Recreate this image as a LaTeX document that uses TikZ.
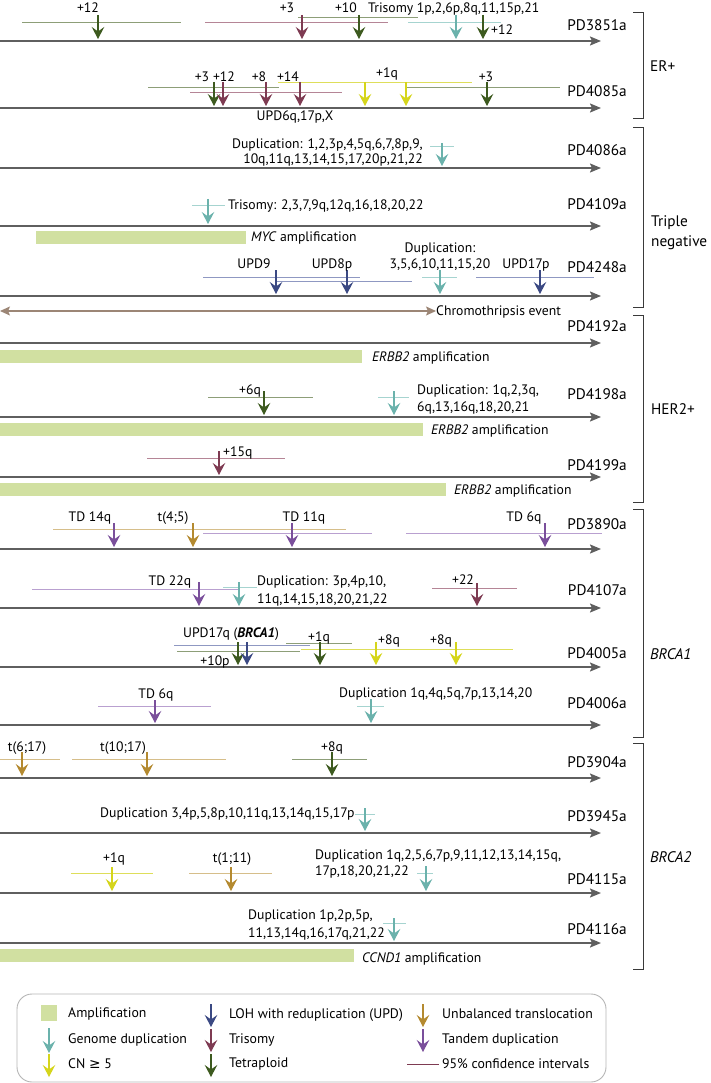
\documentclass[tikz,border=0pt]{standalone}
\usepackage{fontspec}
\setmainfont{PT Sans}
\newfontfamily\symfont{DejaVu Sans}
\usetikzlibrary{arrows.meta}

\definecolor{cTrack}{HTML}{5F5F5F}
\definecolor{cTetra}{HTML}{3D5A1F}
\definecolor{cTetraCI}{HTML}{8D9E78}
\definecolor{cTri}{HTML}{7E3B52}
\definecolor{cTriCI}{HTML}{B58596}
\definecolor{cCN}{HTML}{D5D51C}
\definecolor{cCNCI}{HTML}{DEDE5A}
\definecolor{cGD}{HTML}{6BB2AC}
\definecolor{cGDCI}{HTML}{A6D4D0}
\definecolor{cUPD}{HTML}{3B4983}
\definecolor{cUPDCI}{HTML}{8F98C2}
\definecolor{cTrans}{HTML}{B48A30}
\definecolor{cTransCI}{HTML}{D6BE8A}
\definecolor{cTD}{HTML}{7A4F9B}
\definecolor{cTDCI}{HTML}{B9A0D0}
\definecolor{cChromo}{HTML}{9C8676}
\definecolor{cAmp}{HTML}{D1E0A1}
\definecolor{cBrk}{HTML}{3A3A3A}
\definecolor{cLeg}{HTML}{B5B5B5}

\begin{document}
\begin{tikzpicture}[x=1pt, y=-1pt,
    track/.style={draw=cTrack, line width=1.8pt, -{Stealth[length=11pt,width=9pt,inset=2pt]}},
    evt/.style={line width=1.3pt, -{Stealth[length=12pt,width=12.5pt,inset=4.5pt]}},
    ci/.style={line width=0.9pt},
    ampbar/.style={fill=cAmp, draw=none},
    lbl/.style={font=\fontsize{13.7}{17}\selectfont, inner sep=0pt, anchor=base},
    sample/.style={font=\fontsize{15.3}{18}\selectfont, inner sep=0pt, anchor=base east},
    grp/.style={font=\fontsize{15.3}{20}\selectfont, inner sep=0pt, anchor=base west, align=left},
    brk/.style={draw=cBrk, line width=1pt},
    legtxt/.style={font=\fontsize{13.8}{17}\selectfont, inner sep=0pt, anchor=base west}]
    \useasboundingbox (0,0) rectangle (711,1083);

    % PD3851a
    \draw[track] (0,41) -- (601,41);
    \draw[ci, cTetraCI] (22,22) -- (181,22);
    \draw[ci, cTriCI] (205,22) -- (388,22);
    \draw[ci, cTetraCI] (298,17) -- (418,17);
    \draw[ci, cGDCI] (408,22) -- (501,22);
    \draw[evt, cTetra] (98,15) -- (98,39);
    \draw[evt, cTri] (302,15) -- (302,39);
    \draw[evt, cTetra] (359,15) -- (359,39);
    \draw[evt, cGD] (456,15) -- (456,39);
    \draw[evt, cTetra] (483,15) -- (483,39);
    \node[lbl] (a1) at (88,13) {+12};
    \node[lbl] (a2) at (287,13) {+3};
    \node[lbl] (a3) at (346,13) {+10};
    \node[lbl, anchor=base west] (a4) at (368,13) {Trisomy 1p,2,6p,8q,11,15p,21};
    \node[lbl, anchor=base west] (a5) at (491,35) {+12};
    \node[sample] (s3851) at (627,31) {PD3851a};

    % PD4085a
    \draw[track] (0,108) -- (601,108);
    \draw[ci, cTetraCI] (148,87) -- (279,87);
    \draw[ci, cTriCI] (190,92) -- (342,92);
    \draw[ci, cCNCI] (278,82) -- (472,82);
    \draw[ci, cTetraCI] (407,87) -- (560,87);
    \draw[evt, cTetra] (214,82) -- (214,106);
    \draw[evt, cTri] (223,82) -- (223,106);
    \draw[evt, cTri] (266,82) -- (266,106);
    \draw[evt, cTri] (300,82) -- (300,106);
    \draw[evt, cCN] (365,82) -- (365,106);
    \draw[evt, cCN] (406,82) -- (406,106);
    \draw[evt, cTetra] (487,82) -- (487,106);
    \node[lbl] (b1) at (202,82) {+3};
    \node[lbl] (b2) at (224,82) {+12};
    \node[lbl] (b3) at (259,82) {+8};
    \node[lbl] (b4) at (288,82) {+14};
    \node[lbl] (b5) at (387,78) {+1q};
    \node[lbl] (b6) at (486,82) {+3};
    \node[lbl] (b7) at (295,121) {UPD6q,17p,X};
    \node[sample] (s4085) at (627,97) {PD4085a};

    % PD4086a
    \draw[track] (0,168) -- (601,168);
    \draw[ci, cGDCI] (430,146) -- (454,146);
    \draw[evt, cGD] (442,143) -- (442,166);
    \node[lbl, anchor=north east, align=right] (c1) at (423,138.5) {Duplication: 1,2,3p,4,5q,6,7,8p,9,\\[-2pt]10q,11q,13,14,15,17,20p,21,22};
    \node[sample] (s4086) at (627,156) {PD4086a};

    % PD4109a
    \draw[track] (0,226) -- (601,226);
    \fill[ampbar] (36,231) rectangle (246,244);
    \draw[ci, cGDCI] (192,205) -- (225,205);
    \draw[evt, cGD] (208,199) -- (208,224);
    \node[lbl, anchor=base west] (d1) at (228,210) {Trisomy: 2,3,7,9q,12q,16,18,20,22};
    \node[lbl, anchor=base west] (d2) at (251,242) {\textit{MYC} amplification};
    \node[sample] (s4109) at (627,210) {PD4109a};

    % PD4248a
    \draw[track] (0,296) -- (601,296);
    \draw[ci, cUPDCI] (203,277) -- (360,277);
    \draw[ci, cUPDCI] (276,281) -- (412,281);
    \draw[ci, cGDCI] (422,277) -- (457,277);
    \draw[ci, cUPDCI] (476,277) -- (594,277);
    \draw[evt, cUPD] (276,270) -- (276,294);
    \draw[evt, cUPD] (347,270) -- (347,294);
    \draw[evt, cGD] (440,270) -- (440,294);
    \draw[evt, cUPD] (540,270) -- (540,294);
    \node[lbl] (e1) at (254,268) {UPD9};
    \node[lbl] (e2) at (332,268) {UPD8p};
    \node[lbl, anchor=north, align=center] (e3) at (440,242.5) {Duplication:\\[-1pt]3,5,6,10,11,15,20};
    \node[lbl] (e4) at (526,268) {UPD17p};
    \node[sample] (s4248) at (627,272) {PD4248a};

    % chromothripsis
    \coordinate (ch0) at (0,311);
    \node[lbl, anchor=west, text height=9pt, text depth=0pt] (ch1) at (436,311) {Chromothripsis event};
    \draw[cChromo, line width=1.2pt, {Stealth[length=10pt,width=9pt,inset=2pt]}-{Stealth[length=10pt,width=9pt,inset=2pt]}] (ch0) -- (ch1.west);

    % PD4192a
    \draw[track] (0,343) -- (601,343);
    \fill[ampbar] (0,350) rectangle (362,363);
    \node[lbl, anchor=base west] (f1) at (372,361) {\textit{ERBB2} amplification};
    \node[sample] (s4192) at (627,331) {PD4192a};

    % PD4198a
    \draw[track] (0,417) -- (601,417);
    \fill[ampbar] (0,423) rectangle (423,436);
    \draw[ci, cTetraCI] (208,397) -- (313,397);
    \draw[ci, cGDCI] (378,397) -- (409,397);
    \draw[evt, cTetra] (264,391) -- (264,415);
    \draw[evt, cGD] (394,391) -- (394,415);
    \node[lbl] (g1) at (250,394) {+6q};
    \node[lbl, anchor=north west, align=left] (g2) at (417,384.5) {Duplication: 1q,2,3q,\\6q,13,16q,18,20,21};
    \node[lbl, anchor=base west] (g3) at (431,434) {\textit{ERBB2} amplification};
    \node[sample] (s4198) at (627,399) {PD4198a};

    % PD4199a
    \draw[track] (0,477) -- (601,477);
    \fill[ampbar] (0,483) rectangle (446,496);
    \draw[ci, cTriCI] (147,458) -- (285,458);
    \draw[evt, cTri] (219,451) -- (219,475);
    \node[lbl, anchor=base west] (h1) at (223,456) {+15q};
    \node[lbl, anchor=base west] (h2) at (454,494) {\textit{ERBB2} amplification};
    \node[sample] (s4199) at (627,470) {PD4199a};

    % PD3890a
    \draw[track] (0,549) -- (601,549);
    \draw[ci, cTransCI] (53,529) -- (346,529);
    \draw[ci, cTDCI] (203,533) -- (372,533);
    \draw[ci, cTDCI] (406,533) -- (602,533);
    \draw[evt, cTD] (114,523) -- (114,547);
    \draw[evt, cTrans] (193,523) -- (193,547);
    \draw[evt, cTD] (292,523) -- (292,547);
    \draw[evt, cTD] (545,523) -- (545,547);
    \node[lbl] (i1) at (90,521) {TD 14q};
    \node[lbl] (i2) at (173,521) {t(4;5)};
    \node[lbl] (i3) at (304,521) {TD 11q};
    \node[lbl] (i4) at (524,521) {TD 6q};
    \node[sample] (s3890) at (627,529) {PD3890a};

    % PD4107a
    \draw[track] (0,608) -- (601,608);
    \draw[ci, cTDCI] (32,589) -- (238,589);
    \draw[ci, cGDCI] (223,587) -- (257,587);
    \draw[ci, cTriCI] (432,588) -- (517,588);
    \draw[evt, cTD] (199,582) -- (199,606);
    \draw[evt, cGD] (239,582) -- (239,606);
    \draw[evt, cTri] (477,583) -- (477,606);
    \node[lbl] (j1) at (170,585) {TD 22q};
    \node[lbl, anchor=north west, align=left] (j2) at (257,575.5) {Duplication: 3p,4p,10,\\[1pt]11q,14,15,18,20,21,22};
    \node[lbl] (j3) at (463,584) {+22};
    \node[sample] (s4107) at (627,595) {PD4107a};

    % PD4005a
    \draw[track] (0,667) -- (601,667);
    \draw[ci, cUPDCI] (174,645) -- (310,645);
    \draw[ci, cTetraCI] (177,651) -- (300,651);
    \draw[ci, cTetraCI] (286,643) -- (352,643);
    \draw[ci, cCNCI] (301,649) -- (513,649);
    \draw[evt, cTetra] (238,642) -- (238,665);
    \draw[evt, cUPD] (247,642) -- (247,665);
    \draw[evt, cTetra] (320,642) -- (320,665);
    \draw[evt, cCN] (376,642) -- (376,665);
    \draw[evt, cCN] (456,642) -- (456,665);
    \node[lbl] (k1) at (231,637) {UPD17q (\textbf{\textit{BRCA1}})};
    \node[lbl] (k2) at (215,665) {+10p};
    \node[lbl] (k3) at (319,641) {+1q};
    \node[lbl, anchor=base west] (k4) at (378,644) {+8q};
    \node[lbl, anchor=base west] (k5) at (430,644) {+8q};
    \node[sample] (s4005) at (627,658) {PD4005a};

    % PD4006a
    \draw[track] (0,725) -- (601,725);
    \draw[ci, cTDCI] (98,706) -- (211,706);
    \draw[ci, cGDCI] (357,706) -- (384,706);
    \draw[evt, cTD] (155,700) -- (155,723);
    \draw[evt, cGD] (371,699) -- (371,723);
    \node[lbl] (l1) at (156,698) {TD 6q};
    \node[lbl, anchor=base west] (l2) at (339,697) {Duplication 1q,4q,5q,7p,13,14,20};
    \node[sample] (s4006) at (627,708) {PD4006a};

    % PD3904a
    \draw[track] (0,778) -- (601,778);
    \draw[ci, cTransCI] (0,759) -- (60,759);
    \draw[ci, cTransCI] (72,759) -- (226,759);
    \draw[ci, cTetraCI] (292,759) -- (367,759);
    \draw[evt, cTrans] (22,752) -- (22,776);
    \draw[evt, cTrans] (147,752) -- (147,776);
    \draw[evt, cTetra] (332,752) -- (332,776);
    \node[lbl] (m1) at (27,751) {t(6;17)};
    \node[lbl] (m2) at (123,751) {t(10;17)};
    \node[lbl] (m3) at (332,751) {+8q};
    \node[sample] (s3904) at (627,767) {PD3904a};

    % PD3945a
    \draw[track] (0,833) -- (601,833);
    \draw[ci, cGDCI] (355,814) -- (375,814);
    \draw[evt, cGD] (365,808) -- (365,831);
    \node[lbl, anchor=base west] (n1) at (100,817) {Duplication 3,4p,5,8p,10,11q,13,14q,15,17p};
    \node[sample] (s3945) at (627,821) {PD3945a};

    % PD4115a
    \draw[track] (0,893) -- (601,893);
    \draw[ci, cCNCI] (71,873) -- (153,873);
    \draw[ci, cTransCI] (189,873) -- (272,873);
    \draw[ci, cGDCI] (417,873) -- (433,873);
    \draw[evt, cCN] (112,867) -- (112,891);
    \draw[evt, cTrans] (231,867) -- (231,891);
    \draw[evt, cGD] (426,866) -- (426,891);
    \node[lbl] (o1) at (114,862) {+1q};
    \node[lbl] (o2) at (232,862) {t(1;11)};
    \node[lbl, anchor=north west, align=left] (o3) at (315,849.5) {Duplication 1q,2,5,6,7p,9,11,12,13,14,15q,\\[-1pt]17p,18,20,21,22};
    \node[sample] (s4115) at (627,884) {PD4115a};

    % PD4116a
    \draw[track] (0,943) -- (601,943);
    \fill[ampbar] (0,949) rectangle (354,962);
    \draw[ci, cGDCI] (383,923) -- (406,923);
    \draw[evt, cGD] (394,918) -- (394,941);
    \node[lbl, anchor=north west, align=left] (p1) at (248,909.5) {Duplication 1p,2p,5p,\\[1pt]11,13,14q,16,17q,21,22};
    \node[lbl, anchor=base west] (p2) at (362,962) {\textit{CCND1} amplification};
    \node[sample] (s4116) at (627,934) {PD4116a};

    % brackets
    \draw[brk] (633,13) -- (643,13) -- (643,119) -- (633,119);
    \draw[brk] (633,128) -- (643,128) -- (643,307) -- (633,307);
    \draw[brk] (633,315) -- (643,315) -- (643,502) -- (633,502);
    \draw[brk] (633,509) -- (643,509) -- (643,737) -- (633,737);
    \draw[brk] (633,743) -- (643,743) -- (643,969) -- (633,969);
    \node[grp] (g-er) at (650,72) {ER+};
    \node[grp] (g-tn) at (651,247) {Triple\\negative};
    \node[grp] (g-her) at (651,414) {HER2+};
    \node[grp] (g-b1) at (650,659) {\textit{BRCA1}};
    \node[grp] (g-b2) at (650,862) {\textit{BRCA2}};

    % legend
    \draw[draw=cLeg, line width=0.9pt, rounded corners=15pt] (17,994) rectangle (606,1082);
    \fill[ampbar] (41,1005) rectangle (57,1021);
    \draw[evt, cGD] (49,1028) -- (49,1053);
    \draw[evt, cCN] (49,1054) -- (49,1077);
    \draw[evt, cUPD] (211,1004) -- (211,1027);
    \draw[evt, cTri] (211,1029) -- (211,1052);
    \draw[evt, cTetra] (211,1054) -- (211,1077);
    \draw[evt, cTrans] (423,1004) -- (423,1027);
    \draw[evt, cTD] (423,1029) -- (423,1052);
    \draw[ci, cTri] (407,1064) -- (439,1064);
    \node[legtxt] (q1) at (68,1017) {Amplification};
    \node[legtxt] (q2) at (68,1043) {Genome duplication};
    \node[legtxt] (q3) at (68,1068) {CN {\symfont ≥} 5};
    \node[legtxt] (q4) at (229,1018) {LOH with reduplication (UPD)};
    \node[legtxt] (q5) at (229,1043) {Trisomy};
    \node[legtxt] (q6) at (229,1067) {Tetraploid};
    \node[legtxt] (q7) at (442,1018) {Unbalanced translocation};
    \node[legtxt] (q8) at (442,1043) {Tandem duplication};
    \node[legtxt] (q9) at (442,1068) {95\% confidence intervals};
\end{tikzpicture}
\end{document}
